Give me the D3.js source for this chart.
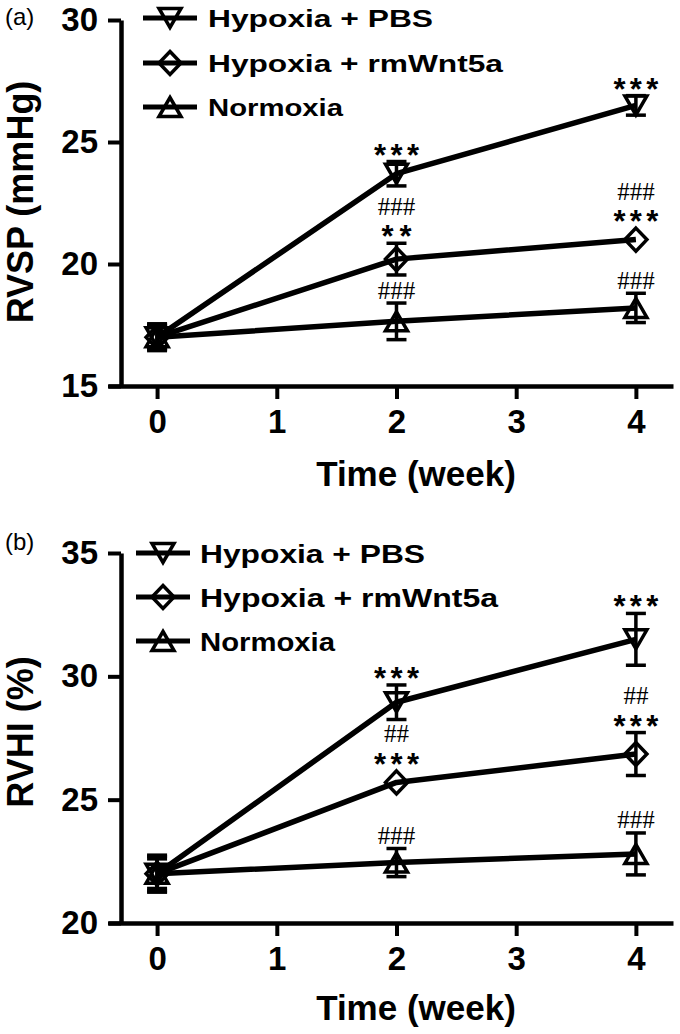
<!DOCTYPE html>
<html><head><meta charset="utf-8">
<script src="https://cdn.jsdelivr.net/npm/d3@7"></script>
<style>html,body{margin:0;padding:0;background:#fff;}</style>
</head><body>
<svg id="c" width="680" height="1034"></svg>
<script>
// ---------- data ----------
const weeks = [0, 2, 4];
const xTicks = [0, 1, 2, 3, 4];
const seriesNames = ["Hypoxia + PBS", "Hypoxia + rmWnt5a", "Normoxia"];

const rvspTicks = [15, 20, 25, 30];
const rvspPBS = [17.0, 23.7, 26.5];
const rvspPBSErr = [0.55, 0.5, 0.4];
const rvspWnt = [17.0, 20.2, 21.0];
const rvspWntErr = [0.45, 0.65, 0.1];
const rvspNorm = [17.0, 17.65, 18.2];
const rvspNormErr = [0.5, 0.75, 0.6];

const rvhiTicks = [20, 25, 30, 35];
const rvhiPBS = [22.0, 28.95, 31.5];
const rvhiPBSErr = [0.7, 0.7, 1.05];
const rvhiWnt = [22.0, 25.7, 26.85];
const rvhiWntErr = [0.6, 0.15, 0.87];
const rvhiNorm = [22.0, 22.45, 22.8];
const rvhiNormErr = [0.75, 0.57, 0.85];

// significance labels, listed bottom to top
const rvspNotes = [
  {s: 0, w: 2, t: ["***"]}, {s: 0, w: 4, t: ["***"]},
  {s: 1, w: 2, t: ["**", "###"]}, {s: 1, w: 4, t: ["***", "###"]},
  {s: 2, w: 2, t: ["###"]}, {s: 2, w: 4, t: ["###"]}
];
const rvhiNotes = [
  {s: 0, w: 2, t: ["***"]}, {s: 0, w: 4, t: ["***"]},
  {s: 1, w: 2, t: ["***", "##"]}, {s: 1, w: 4, t: ["***", "##"]},
  {s: 2, w: 2, t: ["###"]}, {s: 2, w: 4, t: ["###"]}
];

// ---------- drawing ----------
const svg = d3.select("#c");
const SANS = "'Liberation Sans', Arial, Helvetica, sans-serif";
const SERIF = "'Liberation Serif', 'Times New Roman', serif";

const x = d3.scaleLinear().domain([-0.41, 4.31]).range([108, 673]);
const yAxisX = 121;

function symbolPath(kind) {
  const w = 11, h = 9.5, dh = 11.5;
  if (kind === 0) return `M${-w},${-h}L${w},${-h}L0,${h}Z`;
  if (kind === 1) return `M0,${-dh}L${w},0L0,${dh}L${-w},0Z`;
  return `M0,${-h}L${w},${h}L${-w},${h}Z`;
}

function panel(cfg) {
  const g = svg.append("g");
  const y = d3.scaleLinear().domain(cfg.yDomain).range(cfg.yRange);
  const series = cfg.values.map((v, i) => ({i, v, e: cfg.errs[i]}));

  // axes
  const ya = g.append("g").attr("transform", `translate(${yAxisX},0)`)
    .call(d3.axisLeft(y).tickValues(cfg.yTicks).tickFormat(d3.format("d"))
      .tickSize(13).tickSizeOuter(0).tickPadding(10));
  const xa = g.append("g").attr("transform", `translate(0,${cfg.yRange[0]})`)
    .call(d3.axisBottom(x).tickValues(xTicks).tickFormat(d3.format("d"))
      .tickSize(13).tickSizeOuter(0).tickPadding(11));
  [ya, xa].forEach(a => {
    a.select(".domain").attr("stroke", "#000").attr("stroke-width", 4.5);
    a.selectAll(".tick line").attr("stroke", "#000").attr("stroke-width", 4);
    a.selectAll(".tick text").attr("fill", "#000").style("font-family", SANS)
      .style("font-weight", "bold").style("font-size", "33px");
  });

  // axis titles
  g.append("text").attr("x", 416).attr("y", cfg.xTitleY).attr("text-anchor", "middle")
    .style("font-family", SANS).style("font-weight", "bold").style("font-size", "35px")
    .text("Time (week)");
  g.append("text").attr("transform", `translate(33,${cfg.yTitleC}) rotate(-90)`)
    .attr("text-anchor", "middle")
    .style("font-family", SANS).style("font-weight", "bold").style("font-size", "36px")
    .text(cfg.yTitle);
  g.append("text").attr("x", 5).attr("y", cfg.tagY)
    .style("font-family", SANS).style("font-size", "24px").text(cfg.tag);

  // lines
  const line = d3.line().x((d, j) => x(weeks[j])).y(d => y(d));
  series.forEach(s => {
    g.append("path").attr("d", line(s.v)).attr("fill", "none")
      .attr("stroke", "#000").attr("stroke-width", 5.5).attr("stroke-linejoin", "round");
  });
  // error bars
  series.forEach(s => {
    s.v.forEach((v, j) => {
      const cx = x(weeks[j]), e = s.e[j];
      if (e <= 0.15) return;
      const t = y(v + e), b = y(v - e);
      g.append("line").attr("x1", cx).attr("x2", cx).attr("y1", t).attr("y2", b)
        .attr("stroke", "#000").attr("stroke-width", 3.5);
      [t, b].forEach(yy => g.append("line").attr("x1", cx - 10).attr("x2", cx + 10)
        .attr("y1", yy).attr("y2", yy).attr("stroke", "#000").attr("stroke-width", 3.5));
    });
  });
  // markers
  series.forEach(s => {
    s.v.forEach((v, j) => {
      g.append("path").attr("d", symbolPath(s.i))
        .attr("transform", `translate(${x(weeks[j])},${y(v)})`)
        .attr("fill", "none").attr("stroke", "#000").attr("stroke-width", 3.5)
        .attr("stroke-linejoin", "miter");
    });
  });
  // significance labels, stacked above each point
  cfg.notes.forEach(n => {
    const j = weeks.indexOf(n.w);
    const v = cfg.values[n.s][j], e = cfg.errs[n.s][j];
    const cy = y(v);
    const markTop = cy - (n.s === 1 ? 11.5 : 9.5);
    let c = Math.min(markTop, y(v + e)) - 13;
    n.t.forEach((txt, k) => {
      if (k > 0) c -= 24;
      const star = txt[0] === "*";
      const t = g.append("text").attr("x", x(n.w)).attr("text-anchor", "middle");
      if (star) {
        t.attr("y", c + 17).attr("textLength", txt.length * 15).attr("lengthAdjust", "spacing")
          .style("font-family", SANS).style("font-weight", "bold").style("font-size", "31px");
      } else {
        t.attr("y", c + 8.5).style("font-family", SERIF).style("font-size", "25px");
      }
      t.text(txt);
    });
  });
  // legend
  seriesNames.forEach((name, i) => {
    const ly = cfg.legRows[i];
    g.append("line").attr("x1", cfg.legX - 27).attr("x2", cfg.legX + 27)
      .attr("y1", ly).attr("y2", ly).attr("stroke", "#000").attr("stroke-width", 5);
    g.append("path").attr("d", symbolPath(i)).attr("transform", `translate(${cfg.legX},${ly})`)
      .attr("fill", "none").attr("stroke", "#000").attr("stroke-width", 3.5);
    g.append("text").attr("x", cfg.legTextX).attr("y", ly + cfg.legBase)
      .attr("textLength", cfg.legLens[i]).attr("lengthAdjust", "spacingAndGlyphs")
      .style("font-family", SANS).style("font-weight", "bold").style("font-size", cfg.legFont + "px")
      .text(name);
  });
}

panel({
  yDomain: [15, 30], yRange: [386, 20], yTicks: rvspTicks,
  values: [rvspPBS, rvspWnt, rvspNorm], errs: [rvspPBSErr, rvspWntErr, rvspNormErr],
  notes: rvspNotes, xTitleY: 486, yTitle: "RVSP (mmHg)", yTitleC: 202, tag: "(a)", tagY: 25,
  legX: 170, legTextX: 208, legRows: [18, 63, 107], legBase: 9, legFont: 24,
  legLens: [225, 295, 135]
});
panel({
  yDomain: [20, 35], yRange: [923, 553], yTicks: rvhiTicks,
  values: [rvhiPBS, rvhiWnt, rvhiNorm], errs: [rvhiPBSErr, rvhiWntErr, rvhiNormErr],
  notes: rvhiNotes, xTitleY: 1020, yTitle: "RVHI (%)", yTitleC: 732, tag: "(b)", tagY: 550,
  legX: 163, legTextX: 200, legRows: [553, 597, 641], legBase: 10, legFont: 26,
  legLens: [225, 298, 135]
});
</script>
</body></html>
